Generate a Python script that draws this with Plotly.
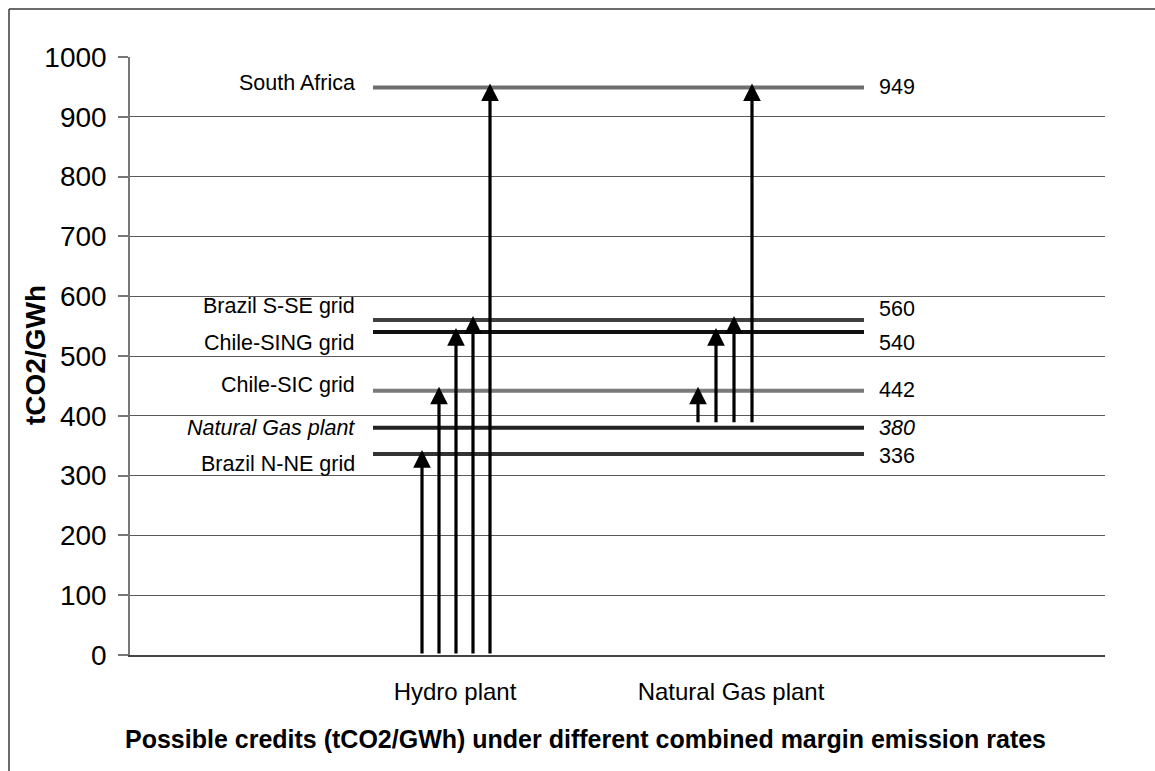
import plotly.graph_objects as go

# ---- data ----
grid_names = ["South Africa", "Brazil S-SE grid", "Chile-SING grid", "Chile-SIC grid",
              "<i>Natural Gas plant</i>", "Brazil N-NE grid"]
grid_values = [949, 560, 540, 442, 380, 336]
grid_value_text = ["949", "560", "540", "442", "<i>380</i>", "336"]
categories = ["Hydro plant", "Natural Gas plant"]
hydro_base = 0
hydro_tips = [336, 442, 540, 560, 949]
gas_base = 380
gas_tips = [442, 540, 560, 949]
y_ticks = [0, 100, 200, 300, 400, 500, 600, 700, 800, 900, 1000]
x_title = "Possible credits (tCO2/GWh) under different combined margin emission rates"
y_title = "tCO2/GWh"

# ---- layout / style constants (page pixel positions) ----
W, H = 1155, 771
PLOT_L, PLOT_R, PLOT_T, PLOT_B = 130, 1105, 57, 655
ML, MT = PLOT_L, PLOT_T
MR, MB = W - PLOT_R, H - PLOT_B
pw = PLOT_R - PLOT_L
ph = PLOT_B - PLOT_T
unit_px = ph / 1000.0

line_colors = ["#6e6e6e", "#404040", "#111111", "#7a7a7a", "#222222", "#333333"]
label_shift_left = [5, 14, -11, 6, 0, -10]
label_shift_right = [1, 11, -11, 1, 0, -2]
LINE_X0, LINE_X1 = 373, 864
LEFT_LABEL_X, RIGHT_LABEL_X = 357, 877
cat_pos = [455, 731]
hydro_x0, hydro_dx = 422, 17
gas_x0, gas_dx = 698, 18
TIP_LIFT = 4 / unit_px       # arrow tips touch top edge of the thick lines
BASE_LIFT = 4 / unit_px
FONT = "Arial, 'Liberation Sans', sans-serif"

fig = go.Figure()

for name, v, c in zip(grid_names, grid_values, line_colors):
    fig.add_trace(go.Scatter(x=[LINE_X0, LINE_X1], y=[v, v], mode="lines",
                             line=dict(color=c, width=4), showlegend=False,
                             hoverinfo="skip"))

ann = []
for name, txt, v, sl, sr in zip(grid_names, grid_value_text, grid_values,
                               label_shift_left, label_shift_right):
    ann.append(dict(x=LEFT_LABEL_X, y=v, xref="x", yref="y", text=name, showarrow=False,
                    xanchor="right", yanchor="middle", yshift=sl,
                    font=dict(size=21.5, color="#000", family=FONT)))
    ann.append(dict(x=RIGHT_LABEL_X, y=v, xref="x", yref="y", text=txt, showarrow=False,
                    xanchor="left", yanchor="middle", yshift=sr,
                    font=dict(size=21.5, color="#000", family=FONT)))

def arrow(xp, base, tip):
    return dict(x=xp, y=tip + TIP_LIFT, ax=xp, ay=base, xref="x", yref="y",
                axref="x", ayref="y",
                text="", showarrow=True, arrowhead=2, arrowsize=1.1, arrowwidth=3.2,
                arrowcolor="#000", standoff=0, startstandoff=0)

for i, t in enumerate(hydro_tips):
    ann.append(arrow(hydro_x0 + i * hydro_dx, hydro_base, t))
for i, t in enumerate(gas_tips):
    ann.append(arrow(gas_x0 + i * gas_dx, gas_base + BASE_LIFT, t))

def px(p):
    return (p - PLOT_L) / pw
def py(p):
    return (PLOT_B - p) / ph

# axis titles placed as text in paper coordinates
ann.append(dict(x=px(35), y=py(355), xref="paper", yref="paper", text="<b>%s</b>" % y_title,
                showarrow=False, textangle=-90, xanchor="center", yanchor="middle",
                font=dict(size=28, family=FONT, color="#000")))
ann.append(dict(x=px(585), y=py(739), xref="paper", yref="paper", text="<b>%s</b>" % x_title,
                showarrow=False, xanchor="center", yanchor="middle",
                font=dict(size=25, family=FONT, color="#000")))

border = dict(color="#3a3a3a", width=1.5)
fig.update_layout(
    width=W, height=H,
    margin=dict(l=ML, r=MR, t=MT, b=MB),
    paper_bgcolor="white", plot_bgcolor="white",
    font=dict(family=FONT, color="#000"),
    annotations=ann,
    shapes=[dict(type="line", xref="paper", yref="paper",
                 x0=px(9), x1=px(1300), y0=py(9), y1=py(9), line=border, layer="below"),
            dict(type="line", xref="paper", yref="paper",
                 x0=px(9), x1=px(9), y0=py(9), y1=py(900), line=border, layer="below")],
    xaxis=dict(range=[PLOT_L, PLOT_R], showgrid=False, zeroline=False,
               showline=True, linecolor="#444", linewidth=2,
               tickmode="array", tickvals=cat_pos, ticktext=categories,
               ticks="", tickfont=dict(size=24, family=FONT, color="#000"),
               ticklabelstandoff=14,
               fixedrange=True),
    yaxis=dict(range=[0, 1000], tickmode="array", tickvals=y_ticks,
               showgrid=True, gridcolor="#5a5a5a", gridwidth=1,
               zeroline=False, showline=True, linecolor="#777", linewidth=1.5,
               ticks="outside", ticklen=10, tickcolor="#777", tickwidth=1.5,
               tickfont=dict(size=28, family=FONT, color="#000"),
               ticklabelstandoff=6,
               fixedrange=True),
)

fig.write_html("out.html", config={"displayModeBar": False},
               post_script="document.body.style.margin='0';document.body.style.overflow='hidden';")
